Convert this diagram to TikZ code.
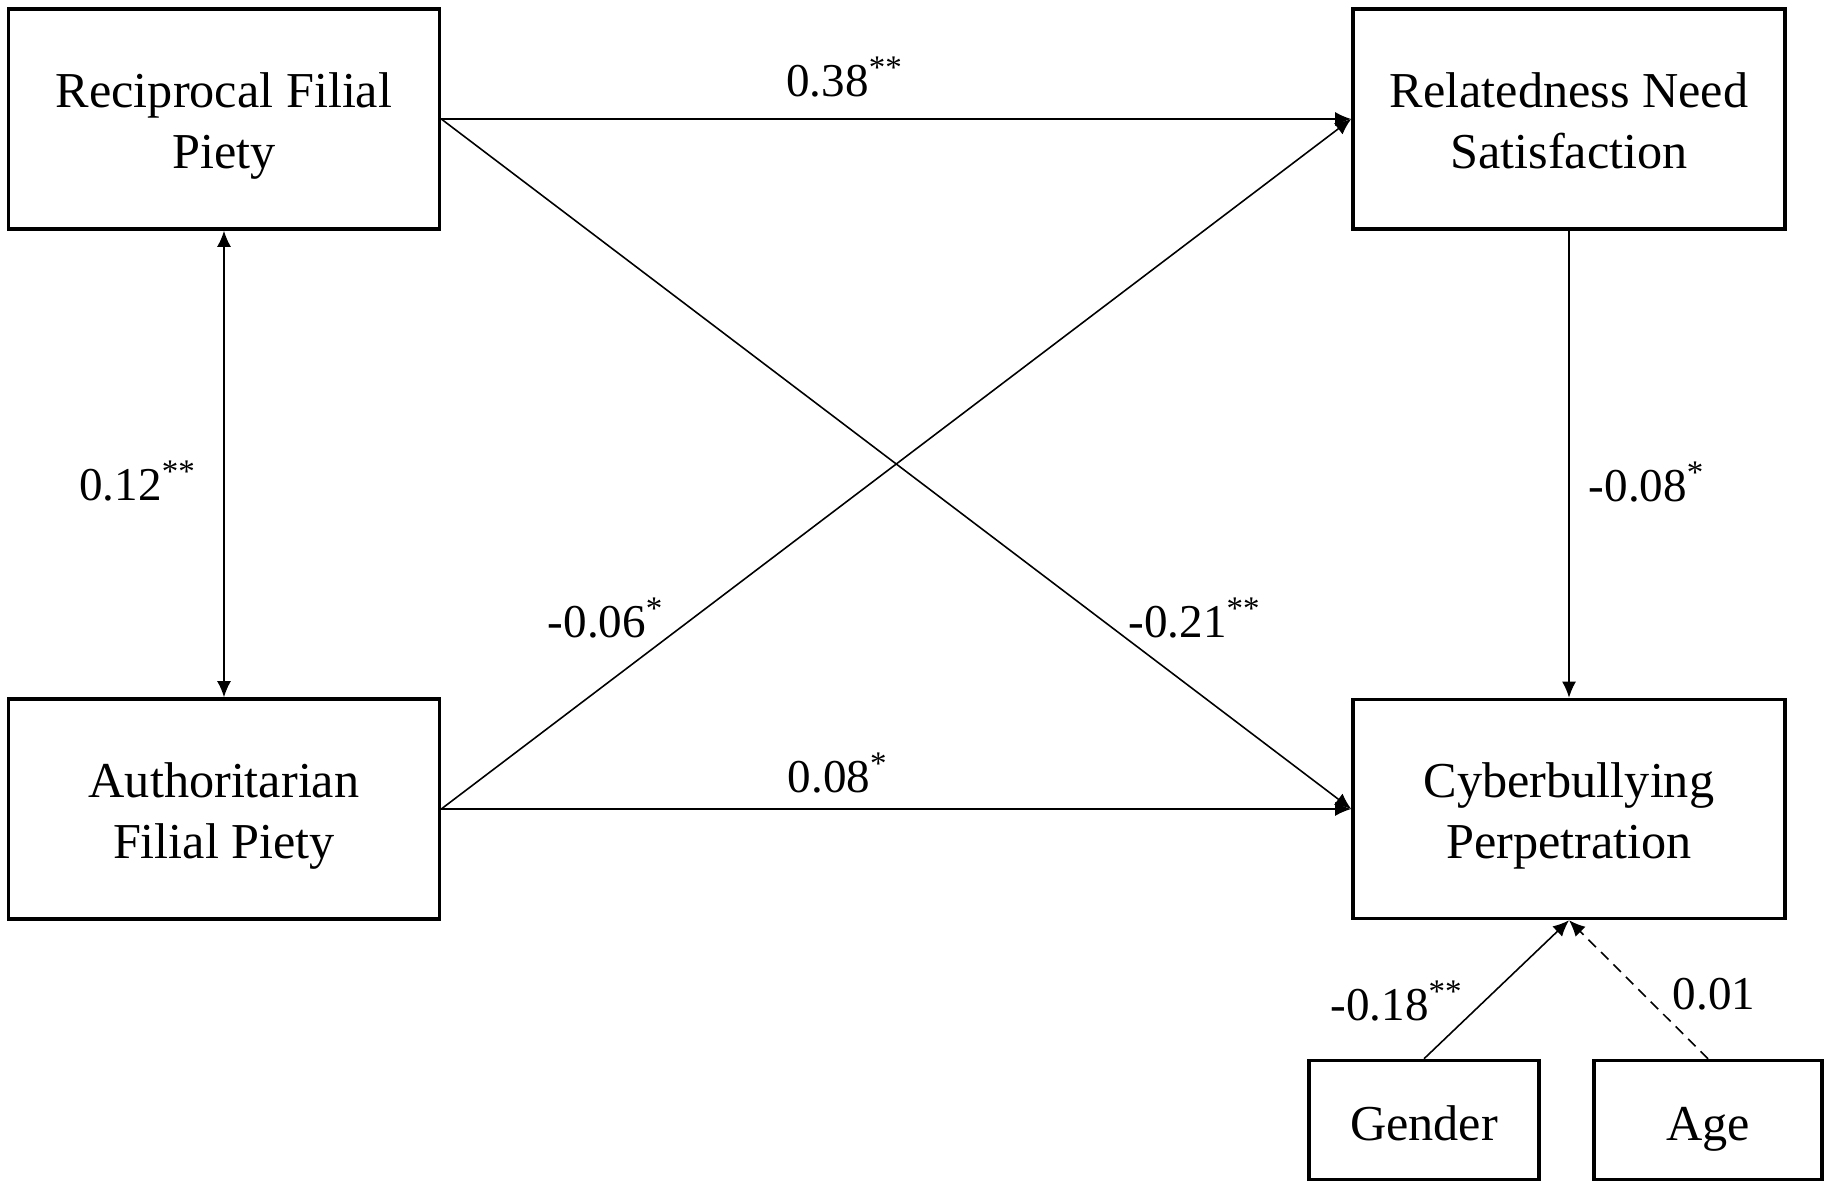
\documentclass[tikz,border=0pt]{standalone}
\usepackage{fontspec}
\setmainfont{Liberation Serif}
\usepackage{tikz}
\usetikzlibrary{arrows.meta,positioning}
\newcommand{\twoline}[2]{\rule{0pt}{0.55cm}#1\\#2\rule[-0.17cm]{0pt}{0.17cm}}

\begin{document}
\begin{tikzpicture}[scale=1.0,
		var/.style={rectangle, draw, line width=1pt, align=center, font=\fontsize{14.3}{17.1}\selectfont, inner sep=0pt},
		ctrl/.style={var, text height=0.55cm, text depth=0.15cm, minimum height=1.19cm},
		path/.style={-{Latex[length=4.6pt,width=4pt]}, line width=0.45pt},
		coef/.style={font=\fontsize{13.4}{16}\selectfont, inner sep=0pt}]
		\useasboundingbox (0,0) rectangle (18.31,11.89);
		\node[var, minimum width=4.31cm, minimum height=2.20cm] (recip) at (2.24,10.70) {\twoline{Reciprocal Filial}{Piety}};
		\node[var, minimum width=4.32cm, minimum height=2.20cm] (relat) at (15.69,10.70) {\twoline{Relatedness Need}{Satisfaction}};
		\node[var, minimum width=4.31cm, minimum height=2.20cm] (auth) at (2.24,3.80) {\twoline{Authoritarian}{Filial Piety}};
		\node[var, minimum width=4.32cm, minimum height=2.19cm] (cyber) at (15.69,3.80) {\twoline{Cyberbullying}{Perpetration}};
		\node[ctrl, minimum width=2.30cm] (gender) at (14.24,0.69) {Gender};
		\node[ctrl, minimum width=2.28cm] (age) at (17.08,0.69) {Age};
		
		\draw[path, {Latex[length=4.6pt,width=4pt]}-{Latex[length=4.6pt,width=4pt]}] (recip) -- (auth);
		\draw[path] (recip.east) -- (relat.west);
		\draw[path] (recip.east) -- (cyber.west);
		\draw[path] (auth.east) -- (relat.west);
		\draw[path] (auth.east) -- (cyber.west);
		\draw[path] (relat) -- (cyber);
		\draw[path] (gender.north) -- (cyber.south);
		\draw[path, dashed, dash pattern=on 3pt off 2pt] (age.north) -- (cyber.south);
		
		\node[coef] (c1) at (8.45,11.12) {0.38\textsuperscript{**}};
		\node[coef] (c2) at (1.38,7.08) {0.12\textsuperscript{**}};
		\node[coef] (c3) at (16.47,7.07) {-0.08\textsuperscript{*}};
		\node[coef] (c4) at (6.06,5.71) {-0.06\textsuperscript{*}};
		\node[coef] (c5) at (11.95,5.71) {-0.21\textsuperscript{**}};
		\node[coef] (c6) at (8.38,4.16) {0.08\textsuperscript{*}};
		\node[coef] (c7) at (13.97,1.88) {-0.18\textsuperscript{**}};
		\node[coef] (c8) at (17.14,1.95) {0.01};
	\end{tikzpicture}
\end{document}
